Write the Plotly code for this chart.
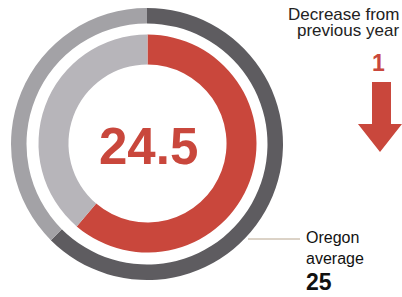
import plotly.graph_objects as go

# ---- data ----
score = 24.5            # school value (inner ring)
oregon_average = 25     # state average (outer ring)
scale_max = 40          # full ring
change_from_prev = 1    # decrease from previous year

inner_labels = ["Score", "Remaining"]
inner_values = [score, scale_max - score]
outer_labels = ["Oregon average", "Remaining"]
outer_values = [oregon_average, scale_max - oregon_average]

# ---- styling ----
W, H = 402, 297
RED = "#c9473c"
INNER_GRAY = "#b7b5ba"
OUTER_LIGHT = "#a3a2a6"
OUTER_DARK = "#5e5c60"
FONT = "Liberation Sans, Arial, sans-serif"


def px(x):
    return x / W


def py(y):
    return 1 - y / H


fig = go.Figure()

# outer ring: Oregon average
oc, orad = (147, 144), 136
fig.add_trace(go.Pie(
    labels=outer_labels, values=outer_values, sort=False,
    direction="clockwise", rotation=0, hole=0.886,
    marker=dict(colors=[OUTER_DARK, OUTER_LIGHT], line=dict(width=0)),
    textinfo="none", hoverinfo="label+value", showlegend=False,
    domain=dict(x=[px(oc[0] - orad), px(oc[0] + orad)],
                y=[py(oc[1] + orad), py(oc[1] - orad)]),
))

# inner ring: score
ic, irad = (147.5, 143.5), 109
fig.add_trace(go.Pie(
    labels=inner_labels, values=inner_values, sort=False,
    direction="clockwise", rotation=0, hole=0.725,
    marker=dict(colors=[RED, INNER_GRAY], line=dict(width=0)),
    textinfo="none", hoverinfo="label+value", showlegend=False,
    domain=dict(x=[px(ic[0] - irad), px(ic[0] + irad)],
                y=[py(ic[1] + irad), py(ic[1] - irad)]),
))

annotations = [
    dict(text=f"<b>{score}</b>", x=px(148.5), y=py(146), xanchor="center", yanchor="middle",
         font=dict(size=51, color=RED, family=FONT)),
    dict(text="Decrease from", x=px(401), y=py(14), xanchor="right", yanchor="middle",
         font=dict(size=17, color="#222222", family=FONT)),
    dict(text="previous year", x=px(401), y=py(31), xanchor="right", yanchor="middle",
         font=dict(size=17, color="#222222", family=FONT)),
    dict(text=f"<b>{change_from_prev}</b>", x=px(378), y=py(63), xanchor="center", yanchor="middle",
         font=dict(size=23, color=RED, family=FONT)),
    dict(text="Oregon", x=px(304), y=py(237), xanchor="left", yanchor="middle",
         font=dict(size=16, color="#111111", family=FONT)),
    dict(text="average", x=px(304), y=py(258), xanchor="left", yanchor="middle",
         font=dict(size=16, color="#111111", family=FONT)),
    dict(text=f"<b>{oregon_average}</b>", x=px(304), y=py(282), xanchor="left", yanchor="middle",
         font=dict(size=23, color="#111111", family=FONT)),
]
for a in annotations:
    a.update(xref="paper", yref="paper", showarrow=False)

# down arrow icon
ax = [372, 391, 391, 402, 380, 358, 372]
ay = [82, 82, 124, 124, 152, 124, 124]
path = "M " + " L ".join(f"{px(x):.4f},{py(y):.4f}" for x, y in zip(ax, ay)) + " Z"

shapes = [
    dict(type="path", path=path, xref="paper", yref="paper",
         fillcolor=RED, line=dict(width=0)),
    dict(type="line", x0=px(248), x1=px(300), y0=py(239), y1=py(239),
         xref="paper", yref="paper", line=dict(color="#b8a68f", width=1)),
]

fig.update_layout(
    width=W, height=H, margin=dict(l=0, r=0, t=0, b=0),
    paper_bgcolor="white", plot_bgcolor="white",
    annotations=annotations, shapes=shapes,
)

fig.write_html(
    "out.html",
    config={"displayModeBar": False},
    post_script="document.body.style.margin='0';document.body.style.overflow='hidden';",
)
